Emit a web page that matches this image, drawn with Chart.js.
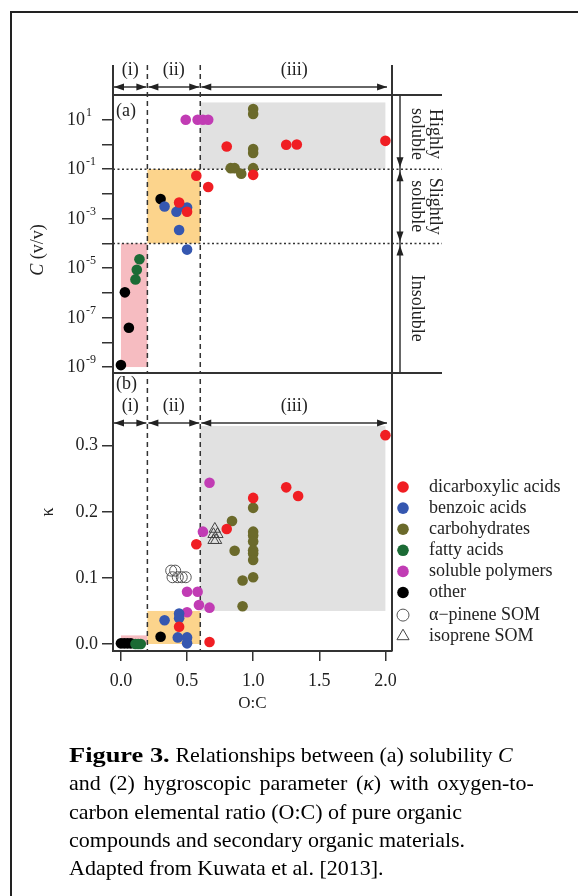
<!DOCTYPE html>
<html><head><meta charset="utf-8">
<script src="https://cdn.jsdelivr.net/npm/chart.js@4/dist/chart.umd.min.js"></script>
<style>
html,body{margin:0;padding:0;background:#fff;}
body{width:578px;height:896px;position:relative;overflow:hidden;font-family:"Liberation Serif","Times New Roman",serif;}
#frame{position:absolute;left:10px;top:11px;width:620px;height:920px;border-left:2px solid #222;border-top:2px solid #222;}
canvas{position:absolute;left:0;top:0;}
#cap{position:absolute;left:69px;top:741px;width:520px;font-size:22px;line-height:28.25px;color:#000;white-space:nowrap;}
#cap b{display:inline-block;transform:scaleX(1.2);transform-origin:0 50%;margin-right:17px;}
#cap .l2{word-spacing:3px;}
</style></head><body>
<div id="frame"></div>
<canvas id="cb" width="578" height="896"></canvas>
<canvas id="ca" width="578" height="896"></canvas>
<div id="cap"><b>Figure 3.</b> Relationships between (a) solubility <i>C</i><br><span class="l2">and (2) hygroscopic parameter (<i>κ</i>) with oxygen-to-</span><br>carbon elemental ratio (O:C) of pure organic<br>compounds and secondary organic materials.<br>Adapted from Kuwata et al. [2013].</div>
<script>
// ---------------- DATA ----------------
// Panel (a): O:C vs solubility C (v/v)
const dicarbA_OC = [0.80, 1.25, 1.33, 2.00, 1.00, 0.57, 0.66, 0.44, 0.50];
const dicarbA_C  = [0.83, 0.98, 1.0, 1.4, 0.059, 0.054, 0.019, 0.0045, 0.0019];
const benzoA_OC  = [0.33, 0.42, 0.45, 0.50, 0.44, 0.50];
const benzoA_C   = [0.0031, 0.0019, 0.0031, 0.0028, 0.00035, 0.000056];
const carboA_OC  = [1.00, 1.00, 1.00, 1.00, 1.00, 0.83, 0.86, 0.91];
const carboA_C   = [27, 17, 0.65, 0.45, 0.11, 0.11, 0.11, 0.065];
const fattyA_OC  = [0.14, 0.12, 0.11];
const fattyA_C   = [0.000023, 0.0000085, 0.0000035];
const polyA_OC   = [0.49, 0.58, 0.62, 0.66];
const polyA_C    = [10, 10, 10, 10];
const otherA_OC  = [0.30, 0.03, 0.06, 0.00];
const otherA_C   = [0.0062, 0.00000105, 0.000000039, 0.0000000012];

// Panel (b): O:C vs hygroscopicity kappa
const dicarbB_OC = [2.00, 1.25, 1.34, 1.00, 0.80, 0.57, 0.44, 0.67];
const dicarbB_K  = [0.316, 0.237, 0.224, 0.221, 0.174, 0.151, 0.026, 0.003];
const benzoB_OC  = [0.33, 0.44, 0.44, 0.43, 0.50, 0.50];
const benzoB_K   = [0.036, 0.046, 0.039, 0.010, 0.010, 0.001];
const carboB_OC  = [1.00, 0.84, 1.00, 1.00, 1.00, 1.00, 1.00, 1.00, 1.00, 0.86, 0.92, 0.92];
const carboB_K   = [0.206, 0.186, 0.170, 0.164, 0.155, 0.142, 0.137, 0.127, 0.101, 0.141, 0.096, 0.057];
const fattyB_OC  = [0.11, 0.13, 0.15];
const fattyB_K   = [0.000, 0.000, 0.000];
const polyB_OC   = [0.67, 0.62, 0.50, 0.58, 0.59, 0.67, 0.50];
const polyB_K    = [0.244, 0.170, 0.079, 0.079, 0.059, 0.055, 0.048];
const otherB_OC  = [0.00, 0.025, 0.05, 0.075, 0.30];
const otherB_K   = [0.001, 0.001, 0.001, 0.001, 0.011];
const pineneB_OC = [0.38, 0.41, 0.39, 0.43, 0.46, 0.49];
const pineneB_K  = [0.111, 0.111, 0.101, 0.101, 0.101, 0.101];
const isopreneB_OC = [0.71, 0.70, 0.73, 0.70, 0.72];
const isopreneB_K  = [0.174, 0.166, 0.166, 0.157, 0.157];

// Regime boundaries and shaded regions (data units)
const ocBounds = [0.2, 0.6];
const cBounds = [0.1, 0.0001];
const regionA_OC = [[0, 0.2], [0.2, 0.6], [0.6, 2.0]];
const regionA_C  = [[1e-9, 1e-4], [1e-4, 1e-1], [1e-1, 50]];
const regionB_OC = [[0, 0.2], [0.2, 0.6], [0.6, 2.0]];
const regionB_K  = [[0, 0.013], [0, 0.05], [0.05, 0.33]];
const regimeLabels = ['(i)', '(ii)', '(iii)'];
const solLabels = [['Highly', 'soluble'], ['Slightly', 'soluble'], ['Insoluble']];

// Axis ticks
const decadesA = [-9, -8, -7, -6, -5, -4, -3, -2, -1, 0, 1];
const labelDecadesA = [1, -1, -3, -5, -7, -9];
const ticksB_K = [0, 0.1, 0.2, 0.3];
const ticksB_OC = [0, 0.5, 1.0, 1.5, 2.0];

const seriesNames = ['dicarboxylic acids', 'benzoic acids', 'carbohydrates', 'fatty acids', 'soluble polymers', 'other', 'α\u2212pinene SOM', 'isoprene SOM'];

// ---------------- STYLE ----------------
const FONT = "'Liberation Serif','Times New Roman',serif";
const INK = '#333';
const COLORS = ['#f01e23', '#3557b0', '#6b6a2b', '#1b6b35', '#c13cb4', '#000000'];
const REGION_COLORS = ['#f6bcc1', '#fcd48c', '#e1e1e1'];

function pts(xs, ys) { return xs.map((x, i) => ({ x: x, y: ys[i] })); }
function filled(label, xs, ys, c) {
  return { label, data: pts(xs, ys), pointStyle: 'circle', pointRadius: 5.3, pointBorderWidth: 0,
    pointBackgroundColor: c, pointBorderColor: c, showLine: false };
}

function arrowHead(ctx, x, y, dir) {
  const L = 10, W = 3.5;
  ctx.beginPath();
  ctx.moveTo(x, y);
  if (dir === 'l') { ctx.lineTo(x + L, y - W); ctx.lineTo(x + L, y + W); }
  if (dir === 'r') { ctx.lineTo(x - L, y - W); ctx.lineTo(x - L, y + W); }
  if (dir === 'u') { ctx.lineTo(x - W, y + L); ctx.lineTo(x + W, y + L); }
  if (dir === 'd') { ctx.lineTo(x - W, y - L); ctx.lineTo(x + W, y - L); }
  ctx.closePath();
  ctx.fill();
}
function line(ctx, x1, y1, x2, y2, w, dash) {
  ctx.save();
  ctx.lineWidth = w; ctx.setLineDash(dash || []);
  ctx.beginPath(); ctx.moveTo(x1, y1); ctx.lineTo(x2, y2); ctx.stroke();
  ctx.restore();
}
function regimeArrows(ctx, xs, left, yArrow, yLabel) {
  const edges = [left, xs.getPixelForValue(ocBounds[0]), xs.getPixelForValue(ocBounds[1]), xs.getPixelForValue(2.02)];
  ctx.font = '18px ' + FONT; ctx.textAlign = 'center'; ctx.textBaseline = 'middle';
  for (let i = 0; i < 3; i++) {
    const a = edges[i], b = edges[i + 1];
    line(ctx, a + 1, yArrow, b - 1, yArrow, 1.5);
    arrowHead(ctx, a + 1, yArrow, 'l');
    arrowHead(ctx, b - 1, yArrow, 'r');
    ctx.fillText(regimeLabels[i], (a + b) / 2, yLabel);
  }
}
function shade(ctx, xs, ys, ocs, vs) {
  ocs.forEach((r, i) => {
    const x1 = xs.getPixelForValue(r[0]), x2 = xs.getPixelForValue(r[1]);
    const y1 = ys.getPixelForValue(vs[i][1]), y2 = ys.getPixelForValue(vs[i][0]);
    ctx.fillStyle = REGION_COLORS[i];
    ctx.fillRect(x1, y1, x2 - x1, y2 - y1);
  });
}

// ---------------- PANEL (a) ----------------
const panelA = {
  id: 'panelA',
  beforeDatasetsDraw(chart) {
    const { ctx, chartArea: ca, scales: { x, y } } = chart;
    ctx.save();
    shade(ctx, x, y, regionA_OC, regionA_C);
    ctx.strokeStyle = INK;
    cBounds.forEach(v => { const py = y.getPixelForValue(v); line(ctx, ca.left, py, ca.right + 50, py, 1.5, [2, 2.5]); });
    ocBounds.forEach(v => { const px = x.getPixelForValue(v); line(ctx, px, ca.top - 30, px, ca.bottom, 1.5, [5, 4]); });
    ctx.restore();
  },
  afterDraw(chart) {
    const { ctx, chartArea: ca, scales: { x, y } } = chart;
    ctx.save();
    ctx.strokeStyle = INK; ctx.fillStyle = '#222';
    line(ctx, ca.left, ca.top - 30, ca.left, ca.bottom, 2);
    line(ctx, ca.right, ca.top - 30, ca.right, ca.bottom, 2);
    line(ctx, ca.left, ca.top, ca.right + 50, ca.top, 2);
    line(ctx, ca.left, ca.bottom, ca.right + 50, ca.bottom, 2);
    const xr = ca.right + 8;
    line(ctx, xr, ca.top, xr, ca.bottom, 1.5);
    regimeArrows(ctx, x, ca.left, ca.top - 8, ca.top - 25);
    const y1 = y.getPixelForValue(cBounds[0]), y2 = y.getPixelForValue(cBounds[1]);
    arrowHead(ctx, xr, y1 - 2, 'd'); arrowHead(ctx, xr, y1 + 2, 'u');
    arrowHead(ctx, xr, y2 - 2, 'd'); arrowHead(ctx, xr, y2 + 2, 'u');
    const centers = [(ca.top + y1) / 2 + 2, (y1 + y2) / 2, (y2 + ca.bottom) / 2];
    ctx.font = '18px ' + FONT; ctx.textAlign = 'center'; ctx.textBaseline = 'middle';
    solLabels.forEach((lab, i) => {
      ctx.save();
      ctx.translate(0, centers[i]);
      ctx.rotate(Math.PI / 2);
      if (lab.length === 2) {
        ctx.fillText(lab[0], 0, -435);
        ctx.fillText(lab[1], 0, -417);
      } else {
        ctx.fillText(lab[0], 0, -417);
      }
      ctx.restore();
    });
    ctx.textAlign = 'left';
    ctx.fillText('(a)', ca.left + 3, ca.top + 16);
    labelDecadesA.forEach(e => {
      const py = y.getPixelForValue(Math.pow(10, e));
      ctx.font = '18px ' + FONT; ctx.textAlign = 'right'; ctx.textBaseline = 'alphabetic';
      ctx.fillText('10', 85, py + 5);
      ctx.font = '12px ' + FONT; ctx.textAlign = 'left';
      ctx.fillText(e < 0 ? '-' + (-e) : String(e), 86, py - 4);
    });
    ctx.save();
    ctx.translate(38, 250);
    ctx.rotate(-Math.PI / 2);
    ctx.font = 'italic 18px ' + FONT;
    const w1 = ctx.measureText('C').width;
    ctx.font = '18px ' + FONT;
    const w2 = ctx.measureText(' (v/v)').width;
    ctx.textBaseline = 'middle'; ctx.textAlign = 'left';
    ctx.font = 'italic 18px ' + FONT;
    ctx.fillText('C', -(w1 + w2) / 2, 0);
    ctx.font = '18px ' + FONT;
    ctx.fillText(' (v/v)', -(w1 + w2) / 2 + w1, 0);
    ctx.restore();
    ctx.restore();
  }
};

new Chart(document.getElementById('ca'), {
  type: 'scatter',
  data: { datasets: [
    filled(seriesNames[0], dicarbA_OC, dicarbA_C, COLORS[0]),
    filled(seriesNames[1], benzoA_OC, benzoA_C, COLORS[1]),
    filled(seriesNames[2], carboA_OC, carboA_C, COLORS[2]),
    filled(seriesNames[3], fattyA_OC, fattyA_C, COLORS[3]),
    filled(seriesNames[4], polyA_OC, polyA_C, COLORS[4]),
    filled(seriesNames[5], otherA_OC, otherA_C, COLORS[5])
  ] },
  options: {
    responsive: false, animation: false, events: [],
    layout: { padding: { left: 25, top: 95, right: 186, bottom: 523 } },
    plugins: { legend: { display: false }, tooltip: { enabled: false } },
    scales: {
      x: { type: 'linear', min: -0.06, max: 2.05, display: false },
      y: { type: 'logarithmic', min: 5.75e-10, max: 100,
        afterBuildTicks: s => { s.ticks = decadesA.map(e => ({ value: Math.pow(10, e) })); },
        afterFit: s => { s.width = 88; },
        ticks: { display: false },
        grid: { drawOnChartArea: false, drawTicks: true, tickLength: 11, color: INK, lineWidth: 1.5 },
        border: { display: true, color: INK, width: 2 } }
    }
  },
  plugins: [panelA]
});

// ---------------- PANEL (b) ----------------
const panelB = {
  id: 'panelB',
  beforeDatasetsDraw(chart) {
    const { ctx, chartArea: ca, scales: { x, y } } = chart;
    ctx.save();
    shade(ctx, x, y, regionB_OC, regionB_K);
    ctx.strokeStyle = INK;
    ocBounds.forEach(v => { const px = x.getPixelForValue(v); line(ctx, px, ca.top + 6, px, ca.bottom, 1.5, [5, 4]); });
    ctx.restore();
  },
  afterDraw(chart) {
    const { ctx, chartArea: ca, scales: { x } } = chart;
    ctx.save();
    ctx.strokeStyle = INK; ctx.fillStyle = '#222';
    line(ctx, ca.left, ca.top, ca.left, ca.bottom, 2);
    line(ctx, ca.right, ca.top, ca.right, ca.bottom, 2);
    line(ctx, ca.left, ca.bottom, ca.right, ca.bottom, 2);
    regimeArrows(ctx, x, ca.left, ca.top + 50, ca.top + 33);
    ctx.font = '18px ' + FONT; ctx.textAlign = 'left'; ctx.textBaseline = 'middle';
    ctx.fillText('(b)', ca.left + 3, ca.top + 11);
    chart.data.datasets.forEach((ds, i) => {
      const yy = 487 + i * 21.1 + (i > 5 ? 1.5 : 0);
      ctx.save();
      ctx.fillStyle = ds.pointBackgroundColor;
      ctx.strokeStyle = ds.pointBorderColor;
      ctx.lineWidth = ds.pointBorderWidth;
      Chart.helpers.drawPoint(ctx, { pointStyle: ds.pointStyle, radius: ds.pointRadius + 0.5, borderWidth: ds.pointBorderWidth, rotation: 0 }, 403, yy);
      ctx.restore();
      ctx.fillStyle = '#222';
      ctx.font = '18px ' + FONT; ctx.textAlign = 'left'; ctx.textBaseline = 'middle';
      ctx.fillText(ds.label, 429, yy);
    });
    ctx.restore();
  }
};

const tickFont = { family: FONT, size: 18 };
new Chart(document.getElementById('cb'), {
  type: 'scatter',
  data: { datasets: [
    filled(seriesNames[0], dicarbB_OC, dicarbB_K, COLORS[0]),
    filled(seriesNames[1], benzoB_OC, benzoB_K, COLORS[1]),
    filled(seriesNames[2], carboB_OC, carboB_K, COLORS[2]),
    filled(seriesNames[3], fattyB_OC, fattyB_K, COLORS[3]),
    filled(seriesNames[4], polyB_OC, polyB_K, COLORS[4]),
    filled(seriesNames[5], otherB_OC, otherB_K, COLORS[5]),
    { label: seriesNames[6], data: pts(pineneB_OC, pineneB_K), pointStyle: 'circle', pointRadius: 5.5,
      pointBorderWidth: 1, pointBorderColor: '#555', pointBackgroundColor: 'rgba(0,0,0,0)' },
    { label: seriesNames[7], data: pts(isopreneB_OC, isopreneB_K), pointStyle: 'triangle', pointRadius: 6.5,
      pointBorderWidth: 1, pointBorderColor: '#444', pointBackgroundColor: 'rgba(0,0,0,0)' }
  ] },
  options: {
    responsive: false, animation: false, events: [],
    layout: { padding: { left: 25, top: 373, right: 186, bottom: 180 } },
    plugins: { legend: { display: false }, tooltip: { enabled: false } },
    scales: {
      x: { type: 'linear', min: -0.06, max: 2.05,
        afterBuildTicks: s => { s.ticks = ticksB_OC.map(v => ({ value: v })); },
        afterFit: s => { s.height = 65; },
        ticks: { font: tickFont, color: '#222', padding: 9, maxRotation: 0, autoSkip: false, callback: v => Number(v).toFixed(1) },
        grid: { drawOnChartArea: false, drawTicks: true, tickLength: 10, color: INK, lineWidth: 1.5 },
        border: { display: true, color: INK, width: 2 },
        title: { display: true, text: 'O:C', font: { family: FONT, size: 17 }, color: '#222', padding: { top: 0, bottom: 2 } } },
      y: { type: 'linear', min: -0.0106, max: 0.41,
        afterBuildTicks: s => { s.ticks = ticksB_K.map(v => ({ value: v })); },
        afterFit: s => { s.width = 88; },
        ticks: { font: tickFont, color: '#222', padding: 4, callback: v => Number(v).toFixed(1) },
        grid: { drawOnChartArea: false, drawTicks: true, tickLength: 11, color: INK, lineWidth: 1.5 },
        border: { display: true, color: INK, width: 2 },
        title: { display: true, text: 'κ', font: { family: FONT, size: 18 }, color: '#222', padding: { top: 12, bottom: 0 } } }
    }
  },
  plugins: [panelB]
});
</script>
</body></html>
